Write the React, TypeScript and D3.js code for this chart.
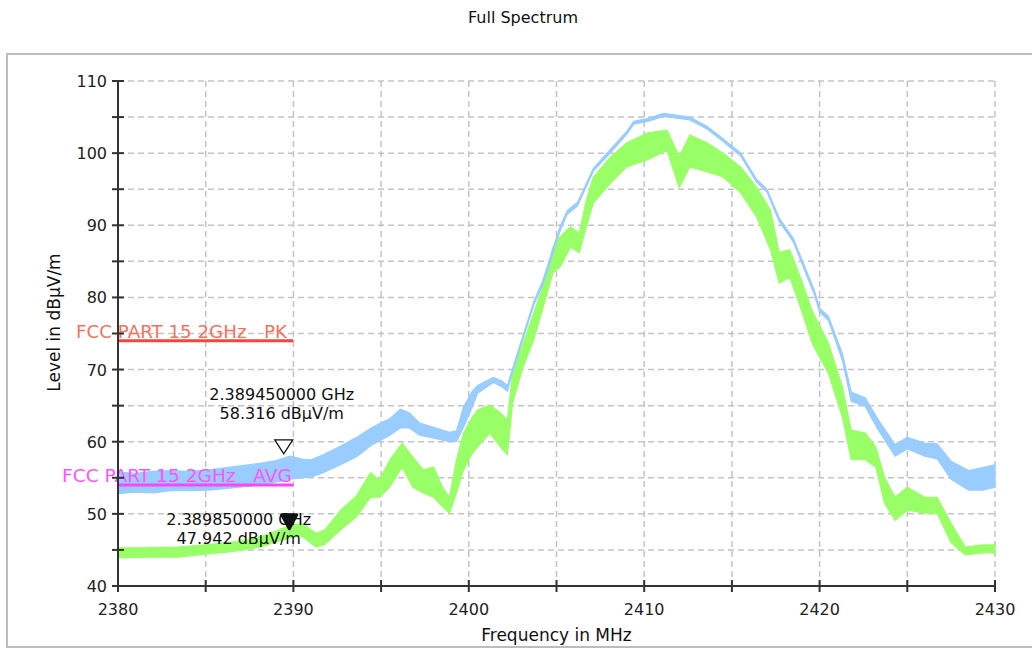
import * as d3 from 'd3';

// peak trace (blue): frequency in MHz, lower / upper edge of the noise band in dBµV/m
const blueFreq = [2380.0, 2381.0, 2382.0, 2383.0, 2384.0, 2385.2, 2386.5, 2388.1, 2389.0, 2389.8, 2390.5, 2391.0, 2391.7, 2392.7, 2393.6, 2394.5, 2395.5, 2396.1, 2396.6, 2397.2, 2398.0, 2398.9, 2399.3, 2399.7, 2400.2, 2400.5, 2401.4, 2401.9, 2402.2, 2402.5, 2403.1, 2403.7, 2404.2, 2404.6, 2405.2, 2405.6, 2406.2, 2407.1, 2408.1, 2409.0, 2409.4, 2410.2, 2411.1, 2412.6, 2413.6, 2414.5, 2415.5, 2416.4, 2417.0, 2417.7, 2418.5, 2419.3, 2419.7, 2420.0, 2420.5, 2421.3, 2421.8, 2422.6, 2423.3, 2424.3, 2425.0, 2426.0, 2426.7, 2427.5, 2428.5, 2429.3, 2430.0];
const blueLo = [52.8, 53.0, 52.9, 53.2, 53.2, 53.3, 53.6, 54.0, 54.4, 54.8, 55.0, 55.1, 55.7, 56.8, 57.9, 59.6, 60.9, 61.9, 61.9, 60.9, 60.5, 60.0, 60.0, 62.0, 64.8, 66.7, 68.2, 67.6, 67.0, 69.6, 74.3, 78.9, 81.7, 84.5, 89.2, 91.5, 92.7, 97.5, 100.1, 102.6, 104.0, 104.4, 105.1, 104.6, 103.3, 101.6, 99.6, 96.0, 94.6, 90.5, 87.7, 82.8, 80.4, 78.0, 76.8, 71.3, 65.6, 64.9, 61.8, 58.0, 59.0, 58.0, 57.6, 54.8, 53.3, 53.3, 53.7];
const blueHi = [55.8, 55.6, 55.9, 56.0, 55.9, 56.1, 56.5, 57.0, 57.4, 58.0, 57.6, 57.5, 58.2, 59.4, 60.6, 62.0, 63.2, 64.5, 64.0, 62.6, 62.0, 61.3, 61.5, 64.8, 67.0, 67.8, 68.9, 68.4, 67.8, 70.2, 74.8, 79.4, 82.2, 85.2, 89.8, 92.0, 93.2, 97.9, 100.6, 103.0, 104.4, 104.8, 105.5, 105.0, 103.7, 102.0, 100.0, 96.4, 95.0, 91.0, 88.2, 83.4, 81.0, 78.5, 77.4, 72.2, 66.9, 66.1, 63.2, 59.6, 60.6, 59.8, 59.7, 57.3, 56.0, 56.4, 56.8];

// average trace (green)
const greenFreq = [2380.0, 2381.5, 2383.4, 2385.0, 2386.2, 2387.2, 2388.1, 2389.4, 2390.0, 2390.5, 2391.3, 2391.8, 2392.7, 2393.6, 2394.4, 2394.9, 2395.5, 2396.2, 2396.8, 2397.4, 2398.0, 2398.5, 2398.9, 2399.3, 2399.7, 2400.2, 2400.5, 2401.2, 2401.8, 2402.2, 2402.5, 2403.1, 2403.7, 2404.2, 2404.8, 2405.2, 2405.8, 2406.3, 2406.7, 2407.1, 2408.1, 2409.0, 2410.2, 2411.3, 2412.0, 2412.6, 2413.6, 2414.5, 2415.5, 2416.4, 2417.2, 2417.7, 2418.3, 2418.9, 2419.6, 2420.5, 2421.3, 2421.8, 2422.6, 2423.2, 2423.7, 2424.3, 2425.0, 2426.0, 2426.7, 2427.5, 2428.3, 2429.3, 2430.0];
const greenLo = [43.9, 44.0, 44.0, 44.4, 44.7, 45.0, 45.4, 46.4, 46.8, 46.9, 45.4, 45.8, 47.8, 49.6, 52.3, 52.3, 53.7, 56.5, 53.7, 52.9, 52.3, 51.0, 50.1, 52.9, 56.1, 58.4, 59.3, 61.2, 59.3, 58.2, 65.4, 70.4, 74.1, 78.3, 83.4, 84.2, 87.0, 86.2, 89.8, 93.1, 95.9, 98.1, 99.1, 100.4, 95.2, 98.1, 97.4, 96.7, 94.5, 91.2, 86.6, 82.0, 82.8, 78.7, 73.5, 69.5, 63.4, 57.5, 57.5, 56.5, 51.5, 49.1, 50.5, 50.1, 50.1, 46.0, 44.3, 44.6, 44.6];
const greenHi = [45.3, 45.3, 45.4, 45.7, 46.0, 46.3, 46.8, 48.0, 48.5, 48.6, 47.3, 47.8, 50.5, 52.5, 55.7, 54.7, 57.5, 59.8, 57.9, 56.1, 56.5, 53.7, 52.3, 57.5, 61.2, 63.4, 64.4, 65.1, 64.0, 63.0, 69.5, 73.7, 77.8, 81.4, 87.0, 88.4, 89.8, 88.9, 93.5, 96.7, 99.5, 101.4, 102.8, 103.2, 99.5, 102.5, 101.4, 100.0, 98.1, 95.3, 92.1, 86.2, 86.6, 82.8, 78.0, 73.7, 67.6, 61.6, 61.2, 59.3, 55.1, 52.3, 53.7, 52.3, 52.3, 48.7, 45.4, 45.7, 45.7];

// limit lines
const limitNames = ['FCC PART 15 2GHz   PK', 'FCC PART 15 2GHz   AVG'];
const limitLevels = [74, 54];
const limitFrom = [2380, 2380];
const limitTo = [2390, 2390];

// markers
const markerFreq = [2389.45, 2389.85];
const markerLevel = [58.316, 47.942];

const xTicks = [2380, 2390, 2400, 2410, 2420, 2430];
const yTicks = [40, 50, 60, 70, 80, 90, 100, 110];

const W = 1032;
const H = 648;
const FONT = '"DejaVu Sans", Verdana, sans-serif';

export default function App() {
  const x = d3.scaleLinear().domain([2380, 2430]).range([118, 995]);
  const y = d3.scaleLinear().domain([40, 110]).range([586, 81]);

  const gridX = d3.range(2385, 2431, 5);
  const gridY = d3.range(45, 111, 5);
  const minorX = d3.range(2380, 2431, 5);
  const minorY = d3.range(40, 111, 5);

  type Pt = { f: number; lo: number; hi: number };
  const band = d3.area<Pt>()
    .x(d => x(d.f))
    .y0(d => y(d.lo))
    .y1(d => y(d.hi));

  const blue: Pt[] = blueFreq.map((f, i) => ({ f, lo: blueLo[i], hi: blueHi[i] }));
  const green: Pt[] = greenFreq.map((f, i) => ({ f, lo: greenLo[i], hi: greenHi[i] }));

  const limitColors = ['#ff4040', '#ff44ff'];
  const limitTextColors = ['#f8705e', '#ff55ff'];
  // label start offset from the left axis, and the width the label spans
  const labelOffset = [42, 56];
  const labelWidth = [211, 230];

  return (
    <svg width={W} height={H} style={{ position: 'absolute', left: 0, top: 0, background: '#fff' }}>
      <text x={523} y={23} textAnchor="middle" fontFamily={FONT} fontSize={16} fill="#111">Full Spectrum</text>

      {/* frame */}
      <rect x={7} y={54} width={1040} height={593} fill="none" stroke="#bdbdbd" strokeWidth={2} />

      {/* grid */}
      <g stroke="#c4c4c4" strokeWidth={1.5} strokeDasharray="6,4">
        {gridX.map(v => <line key={'gx' + v} x1={x(v)} x2={x(v)} y1={y(110)} y2={y(40)} />)}
        {gridY.map(v => <line key={'gy' + v} x1={x(2380)} x2={x(2430)} y1={y(v)} y2={y(v)} />)}
      </g>

      {/* traces */}
      <path d={band(green)!} fill="#99ff66" stroke="#99ff66" strokeWidth={1.2} />
      <path d={band(blue)!} fill="#99ccff" stroke="#99ccff" strokeWidth={1.2} />

      {/* limit lines */}
      {limitNames.map((name, i) => (
        <g key={name}>
          <line x1={x(limitFrom[i])} x2={x(limitTo[i])} y1={y(limitLevels[i])} y2={y(limitLevels[i])}
            stroke={limitColors[i]} strokeWidth={3} />
          <text x={x(limitFrom[i]) - labelOffset[i]} y={y(limitLevels[i]) - 3}
            textLength={labelWidth[i]} lengthAdjust="spacingAndGlyphs"
            fontFamily={FONT} fontSize={18} fill={limitTextColors[i]} style={{ whiteSpace: 'pre' }}>{name}</text>
        </g>
      ))}

      {/* axes */}
      <g stroke="#333" strokeWidth={2}>
        <line x1={x(2380)} x2={x(2380)} y1={y(110)} y2={y(40)} />
        <line x1={x(2380)} x2={x(2430)} y1={y(40)} y2={y(40)} />
        {minorY.map(v => <line key={'ty' + v} x1={x(2380) - 6} x2={x(2380) + 6} y1={y(v)} y2={y(v)} />)}
        {minorX.map(v => <line key={'tx' + v} x1={x(v)} x2={x(v)} y1={y(40) - 6} y2={y(40) + 6} />)}
      </g>
      <g fontFamily={FONT} fontSize={16} fill="#222">
        {yTicks.map(v => (
          <text key={'ly' + v} x={x(2380) - 11} y={y(v) + 6} textAnchor="end">{v}</text>
        ))}
        {xTicks.map(v => (
          <text key={'lx' + v} x={x(v)} y={615} textAnchor="middle">{v}</text>
        ))}
      </g>
      <text x={(x(2380) + x(2430)) / 2} y={641} textAnchor="middle" fontFamily={FONT} fontSize={17} fill="#111">Frequency in MHz</text>
      <text transform={`translate(60, ${(y(40) + y(110)) / 2 - 11}) rotate(-90)`} textAnchor="middle"
        fontFamily={FONT} fontSize={17} fill="#111">Level in dBµV/m</text>

      {/* markers */}
      {markerFreq.map((f, i) => {
        const mx = x(f);
        const my = y(markerLevel[i]);
        const tx = i === 0 ? mx - 2 : mx - 52;
        const ty = i === 0 ? 400 : 525;
        return (
          <g key={'m' + i}>
            {i === 0 ? (
              <path d={`M${mx - 9},${my - 14}L${mx + 9},${my - 14}L${mx},${my}Z`} fill="#fff" stroke="#111" strokeWidth={1.3} />
            ) : (
              <path d={`M${mx - 9},${my - 14}L${mx + 6},${my - 14}L${mx - 1.5},${my}Z`} fill="#111" stroke="#111" strokeWidth={3} strokeLinejoin="round" />
            )}
            <text x={tx} y={ty} textAnchor="middle" fontFamily={FONT} fontSize={16} fill="#111">{`${(f / 1000).toFixed(9)} GHz`}</text>
            <text x={tx} y={ty + 19} textAnchor="middle" fontFamily={FONT} fontSize={16} fill="#111">{`${markerLevel[i].toFixed(3)} dBµV/m`}</text>
          </g>
        );
      })}
    </svg>
  );
}
